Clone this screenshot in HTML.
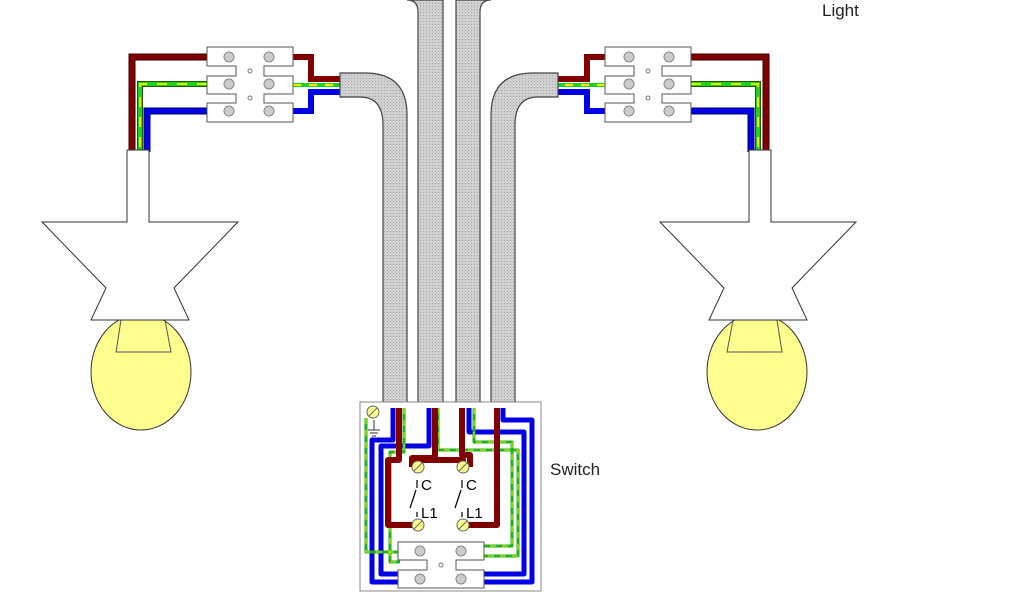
<!DOCTYPE html>
<html><head><meta charset="utf-8"><style>
html,body{margin:0;padding:0;background:#fff;}
svg{display:block;}
text{font-family:"Liberation Sans",sans-serif;}
</style></head><body>
<svg width="1024" height="600" viewBox="0 0 1024 600" xmlns="http://www.w3.org/2000/svg">
<defs>
<pattern id="dot" width="3" height="3" patternUnits="userSpaceOnUse">
<rect width="3" height="3" fill="#d0d0d0"/><rect width="1" height="1" fill="#a8a8a8"/>
</pattern>
<g id="side">
  <polyline points="207,57 132,57 132,152" fill="none" stroke="#3a0000" stroke-width="7"/>
  <polyline points="207,57 132,57 132,152" fill="none" stroke="#800000" stroke-width="5"/>
  <polyline points="207,84 140,84 140,152" fill="none" stroke="#1a5a00" stroke-width="6"/>
  <polyline points="207,84 140,84 140,152" fill="none" stroke="#20d020" stroke-width="4"/>
  <polyline points="207,84 140,84 140,152" fill="none" stroke="#f0f000" stroke-width="2" stroke-dasharray="10,10"/>
  <polyline points="207,111 147,111 147,152" fill="none" stroke="#00005a" stroke-width="7"/>
  <polyline points="207,111 147,111 147,152" fill="none" stroke="#0000e8" stroke-width="5"/>
  <polyline points="293,57 311,57 311,79 345,79" fill="none" stroke="#800000" stroke-width="6"/>
  <polyline points="293,85 345,85" fill="none" stroke="#20d020" stroke-width="4"/>
  <polyline points="293,85 345,85" fill="none" stroke="#f0f000" stroke-width="2" stroke-dasharray="8,8"/>
  <polyline points="293,111 311,111 311,92 345,92" fill="none" stroke="#0000e8" stroke-width="6"/>
  <path d="M207,47H293V66H264V76H293V94H264V103H293V122H207V103H236V94H207V76H236V66H207Z" fill="#fff" stroke="#555" stroke-width="1"/>
  <g fill="#ccc" stroke="#888"><circle cx="229" cy="57" r="5"/><circle cx="269" cy="57" r="5"/><circle cx="229" cy="84" r="5"/><circle cx="269" cy="84" r="5"/><circle cx="229" cy="111" r="5"/><circle cx="269" cy="111" r="5"/></g>
  <g fill="#fff" stroke="#777"><circle cx="250" cy="71" r="2"/><circle cx="250" cy="98" r="2"/></g>
  <path d="M340,73H365Q407,73 407,115V408H383V125Q383,97 360,97H340Z" fill="url(#dot)" stroke="#444" stroke-width="1.2"/>
  <ellipse cx="141" cy="372" rx="50" ry="58" fill="#ffff90" stroke="#333" stroke-width="1"/>
  <polygon points="121,320 116,352 171,352 165,320" fill="none" stroke="#555" stroke-width="1"/>
  <polygon points="127,150 149,150 149,222 238,222 174,288 189,320 91,320 106,288 42,222 127,222" fill="#fff" stroke="#333" stroke-width="1"/>
</g>
</defs>
<use href="#side"/>
<use href="#side" transform="translate(898,0) scale(-1,1)"/>
<path d="M407,0Q418,0 418,12V408H443V0Z" fill="url(#dot)" stroke="#444" stroke-width="1.2"/>
<path d="M491,0Q480,0 480,12V408H456V0Z" fill="url(#dot)" stroke="#444" stroke-width="1.2"/>
<rect x="360" y="402" width="181" height="189" fill="#fff" stroke="#888" stroke-width="1"/>
<g fill="none" stroke-linejoin="round">
 <g stroke="#0000e8" stroke-width="5">
  <polyline points="393,408 393,440 372,440 372,582 400,582"/>
  <polyline points="429,408 429,446 381,446 381,574 400,574"/>
  <polyline points="503,408 503,420 532,420 532,582 484,582"/>
  <polyline points="469,408 469,432 524,432 524,574 484,574"/>
 </g>
 <g stroke="#20b020" stroke-width="3">
  <polyline points="366,418 366,552 400,552"/>
  <polyline points="404,408 404,452 390,452 390,562 400,562"/>
  <polyline points="438,408 438,450 518,450 518,556 484,556"/>
  <polyline points="474,408 474,442 512,442 512,546 484,546"/>
 </g>
 <g stroke="#f0f000" stroke-width="1" stroke-dasharray="6,6">
  <polyline points="366,418 366,552 400,552"/>
  <polyline points="404,408 404,452 390,452 390,562 400,562"/>
  <polyline points="438,408 438,450 518,450 518,556 484,556"/>
  <polyline points="474,408 474,442 512,442 512,546 484,546"/>
 </g>
 <g stroke="#800000" stroke-width="6">
  <polyline points="399,408 399,460 388,460 388,525 418,525"/>
  <polyline points="435,408 435,458 412,458 412,467"/>
  <polyline points="418,467 418,460 463,460 463,467"/>
  <polyline points="462,408 462,455 470,455 470,467"/>
  <polyline points="497,408 497,525 463,525"/>
 </g>
</g>
<g fill="#ffff90" stroke="#666">
 <circle cx="373" cy="412" r="6"/><circle cx="418" cy="467" r="6"/><circle cx="463" cy="467" r="6"/><circle cx="418" cy="525" r="6"/><circle cx="463" cy="525" r="6"/>
</g>
<g stroke="#666"><line x1="369" y1="416" x2="377" y2="408"/><line x1="414" y1="471" x2="422" y2="463"/><line x1="459" y1="471" x2="467" y2="463"/><line x1="414" y1="529" x2="422" y2="521"/><line x1="459" y1="529" x2="467" y2="521"/></g>
<g stroke="#333" stroke-width="1"><line x1="374" y1="420" x2="374" y2="430"/><line x1="368" y1="430" x2="380" y2="430"/><line x1="370" y1="433" x2="378" y2="433"/><line x1="372" y1="436" x2="376" y2="436"/></g>
<g stroke="#000" stroke-width="1.2"><line x1="417" y1="480" x2="417" y2="488"/><line x1="417" y1="512" x2="417" y2="517"/><line x1="410" y1="508" x2="416" y2="490"/><line x1="462" y1="480" x2="462" y2="488"/><line x1="462" y1="512" x2="462" y2="517"/><line x1="455" y1="508" x2="461" y2="490"/></g>
<g font-size="15" fill="#000"><text x="421" y="490">C</text><text x="466" y="490">C</text><text x="421" y="518">L1</text><text x="466" y="518">L1</text></g>
<path d="M398,542H484V560H456V570H484V588H398V570H427V560H398Z" fill="#fff" stroke="#555"/>
<g fill="#ccc" stroke="#888"><circle cx="420" cy="551" r="5"/><circle cx="461" cy="551" r="5"/><circle cx="420" cy="579" r="5"/><circle cx="461" cy="579" r="5"/></g>
<circle cx="441" cy="565" r="2" fill="#fff" stroke="#777"/>
<text x="550" y="475" font-size="17" fill="#222">Switch</text>
<text x="822" y="16" font-size="17" fill="#222">Light</text>
</svg>
</body></html>
